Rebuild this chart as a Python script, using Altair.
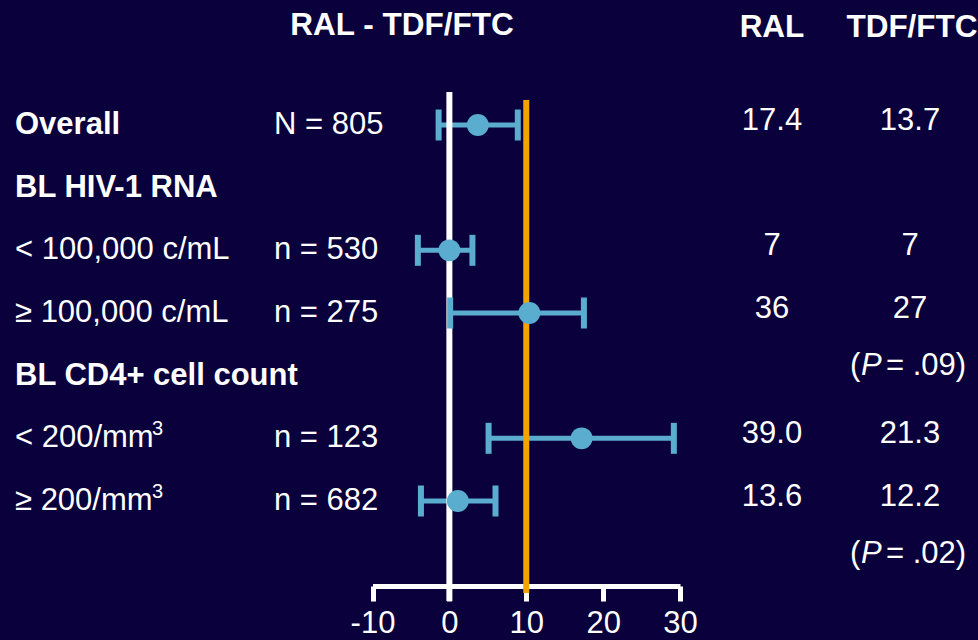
import altair as alt
import pandas as pd

# Subgroup rows of the forest plot (top to bottom)
labels = ["Overall", "BL HIV-1 RNA", "< 100,000 c/mL", "≥ 100,000 c/mL",
          "BL CD4+ cell count", "< 200/mm", "≥ 200/mm"]
superscripts = ["", "", "", "", "", "3", "3"]
heading = [True, True, False, False, True, False, False]
n_labels = ["N = 805", "", "n = 530", "n = 275", "", "n = 123", "n = 682"]

# Treatment difference RAL - TDF/FTC with 95% CI
diff = [3.7, None, 0.0, 10.4, None, 17.2, 1.1]
ci_low = [-1.4, None, -4.1, 0.1, None, 5.1, -3.7]
ci_high = [8.9, None, 3.0, 17.5, None, 29.2, 6.0]

# Percentages per arm
ral_pct = ["17.4", "", "7", "36", "", "39.0", "13.6"]
tdf_pct = ["13.7", "", "7", "27", "", "21.3", "12.2"]

# Interaction p-values (row after which they appear)
p_rows = [4, 7]
p_texts = ["= .09)", "= .02)"]

# Reference lines: zero difference and 10% margin
zero_line = [0]
margin_line = [10]
x_ticks = [-10, 0, 10, 20, 30]

BG = "#0a003c"
BLUE = "#5aadcf"
ORANGE = "#f5a300"
FONT = "Liberation Sans"
FS = 31

rows = list(range(len(labels)))
df = pd.DataFrame({
    "row": rows, "label": labels, "sup": superscripts, "heading": heading,
    "n": n_labels, "diff": diff, "lo": ci_low, "hi": ci_high,
    "ral": ral_pct, "tdf": tdf_pct,
})
est = df.dropna(subset=["diff"])
caps = pd.concat([
    est[["row", "lo"]].rename(columns={"lo": "x"}),
    est[["row", "hi"]].rename(columns={"hi": "x"}),
])
pdf = pd.DataFrame({"row": p_rows, "txt": p_texts})

xs = alt.Scale(domain=[-10, 30], range=[372.5, 680])
ys = alt.Scale(domain=[0, 6], range=[125, 501])
X = lambda f: alt.X(f, type="quantitative", scale=xs,
                    axis=alt.Axis(values=x_ticks, title=None, grid=False,
                                  domainColor="white", domainWidth=5,
                                  tickColor="white", tickWidth=5, tickSize=15,
                                  labelColor="white", labelFont=FONT,
                                  labelFontSize=31, labelPadding=7,
                                  labelFlush=False, labelOverlap=False,
                                  labelExpr="'' + datum.value"))
Y = alt.Y("row:Q", scale=ys, axis=None)

base = alt.Chart(df)

err = alt.Chart(est).mark_rule(color=BLUE, strokeWidth=5).encode(
    x=X("lo"), x2="hi", y=Y)

zero = alt.Chart(pd.DataFrame({"v": zero_line})).mark_rule(
    color="white", strokeWidth=6).encode(
    x=X("v"), y=alt.value(92), y2=alt.value(601))
margin = alt.Chart(pd.DataFrame({"v": margin_line})).mark_rule(
    color=ORANGE, strokeWidth=6).encode(
    x=X("v"), y=alt.value(100), y2=alt.value(593))

cap = alt.Chart(caps).mark_tick(color=BLUE, orient="vertical", size=31,
                                thickness=6, opacity=1).encode(x=X("x"), y=Y)
dot = alt.Chart(est).mark_circle(color=BLUE, size=480, opacity=1).encode(
    x=X("diff"), y=Y)

txt = dict(color="white", font=FONT, fontSize=FS, baseline="middle")
lab_bold = base.transform_filter("datum.heading").mark_text(
    align="left", fontWeight="bold", **txt).encode(
    x=alt.value(15), y=Y, text="label:N")
lab_reg = base.transform_filter("!datum.heading").mark_text(
    align="left", **txt).encode(x=alt.value(15), y=Y, text="label:N")
sup = base.transform_filter("datum.sup != ''").mark_text(
    align="left", color="white", font=FONT, fontSize=20, baseline="middle",
    dy=-9).encode(x=alt.value(152), y=Y, text="sup:N")
n_txt = base.mark_text(align="left", **txt).encode(
    x=alt.value(274), y=Y, text="n:N")
ral_txt = base.mark_text(align="center", dy=-4, **txt).encode(
    x=alt.value(772), y=Y, text="ral:N")
tdf_txt = base.mark_text(align="center", dy=-4, **txt).encode(
    x=alt.value(910), y=Y, text="tdf:N")

p_open = alt.Chart(pdf).mark_text(align="left", dy=-10, text="(", **txt).encode(
    x=alt.value(850), y=Y)
p_p = alt.Chart(pdf).mark_text(align="left", dy=-10, text="P",
                               fontStyle="italic", **txt).encode(
    x=alt.value(861), y=Y)
p_rest = alt.Chart(pdf).mark_text(align="left", dy=-10, **txt).encode(
    x=alt.value(886), y=Y, text="txt:N")

hdr = dict(color="white", font=FONT, fontSize=31.5, fontWeight="bold",
           baseline="middle", align="center")
h1 = alt.Chart(pd.DataFrame({"t": ["RAL - TDF/FTC"]})).mark_text(**hdr).encode(
    x=alt.value(402), y=alt.value(26), text="t:N")
h2 = alt.Chart(pd.DataFrame({"t": ["RAL"]})).mark_text(**hdr).encode(
    x=alt.value(772), y=alt.value(28), text="t:N")
h3 = alt.Chart(pd.DataFrame({"t": ["TDF/FTC"]})).mark_text(**hdr).encode(
    x=alt.value(912), y=alt.value(28), text="t:N")

chart = alt.layer(
    err, zero, margin, cap, dot,
    lab_bold, lab_reg, sup, n_txt, ral_txt, tdf_txt,
    p_open, p_p, p_rest, h1, h2, h3,
).properties(
    width=978, height=586,
    padding={"left": 0, "right": 0, "top": 0, "bottom": 54},
    autosize="none", background=BG,
).configure_view(stroke=None)

chart.save("out.html", embed_options={"renderer": "svg", "actions": False})
